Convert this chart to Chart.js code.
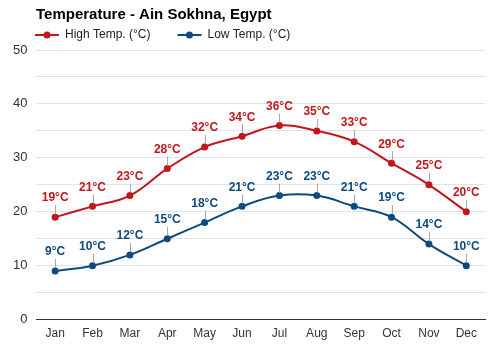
<!DOCTYPE html>
<html><head><meta charset="utf-8">
<script src="https://cdn.jsdelivr.net/npm/chart.js@4"></script>
<style>html,body{margin:0;padding:0;background:#fff}#w{width:500px;height:350px}</style>
</head><body><div id="w"><canvas id="c"></canvas></div>
<script>
const months = ['Jan','Feb','Mar','Apr','May','Jun','Jul','Aug','Sep','Oct','Nov','Dec'];
const highTemps = [19,21,23,28,32,34,36,35,33,29,25,20];
const lowTemps = [9,10,12,15,18,21,23,23,21,19,14,10];
const titleText = 'Temperature - Ain Sokhna, Egypt';
const highLabel = 'High Temp. (°C)';
const lowLabel = 'Low Temp. (°C)';
const RED = '#c0161c', BLUE = '#0c4a80';
const FONT = '"Liberation Sans", Arial, sans-serif';

const overlay = {
  id: 'overlay',
  afterDatasetsDraw(chart) {
    const ctx = chart.ctx;
    ctx.save();
    chart.data.datasets.forEach((ds, di) => {
      const meta = chart.getDatasetMeta(di);
      meta.data.forEach((pt, i) => {
        ctx.strokeStyle = '#aaa';
        ctx.lineWidth = 1;
        ctx.beginPath();
        ctx.moveTo(Math.round(pt.x) + 0.5, pt.y - 3);
        ctx.lineTo(Math.round(pt.x) + 0.5, pt.y - 12);
        ctx.stroke();
        ctx.fillStyle = ds.borderColor;
        ctx.font = 'bold 12px ' + FONT;
        ctx.textAlign = 'center';
        ctx.textBaseline = 'middle';
        ctx.fillText(ds.data[i] + '°C', pt.x, pt.y - 19);
      });
    });
    ctx.restore();
  },
  afterDraw(chart) {
    const ctx = chart.ctx;
    ctx.save();
    ctx.fillStyle = '#000';
    ctx.font = 'bold 15px ' + FONT;
    ctx.textAlign = 'left';
    ctx.textBaseline = 'middle';
    ctx.fillText(titleText, 36, 15);
    let x = 35;
    const y = 35;
    chart.data.datasets.forEach(ds => {
      ctx.strokeStyle = ds.borderColor;
      ctx.lineWidth = 2;
      ctx.beginPath(); ctx.moveTo(x, y); ctx.lineTo(x + 24, y); ctx.stroke();
      ctx.fillStyle = ds.borderColor;
      ctx.beginPath(); ctx.arc(x + 12, y, 3.5, 0, Math.PI * 2); ctx.fill();
      ctx.fillStyle = '#222';
      ctx.font = '12px ' + FONT;
      ctx.fillText(ds.label, x + 30, y);
      x += 30 + ctx.measureText(ds.label).width + 27;
    });
    ctx.restore();
  }
};

new Chart(document.getElementById('c'), {
  type: 'line',
  data: {
    labels: months,
    datasets: [
      { label: highLabel, data: highTemps, borderColor: RED, backgroundColor: RED, borderWidth: 2, pointRadius: 3.5, pointBackgroundColor: RED, pointBorderWidth: 0, tension: 0.4 },
      { label: lowLabel, data: lowTemps, borderColor: BLUE, backgroundColor: BLUE, borderWidth: 2, pointRadius: 3.5, pointBackgroundColor: BLUE, pointBorderWidth: 0, tension: 0.4 }
    ]
  },
  options: {
    responsive: true, maintainAspectRatio: false, animation: false,
    layout: { padding: { top: 50, right: 15, left: 4, bottom: 2 } },
    plugins: { legend: { display: false }, title: { display: false }, tooltip: { enabled: false } },
    scales: {
      x: {
        offset: true,
        grid: { display: false, drawTicks: false },
        border: { color: '#333', width: 1 },
        ticks: { color: '#333', font: { size: 12, family: FONT }, padding: 7 }
      },
      y: {
        min: 0, max: 50,
        border: { display: false },
        grid: { color: ctx => ctx.tick && ctx.tick.value === 0 ? '#333' : '#e3e3e3', drawTicks: false },
        ticks: { stepSize: 5, color: '#333', font: { size: 13, family: FONT }, padding: 9,
          callback: v => (v % 10 === 0 ? v : '') }
      }
    }
  },
  plugins: [overlay]
});
</script></body></html>
